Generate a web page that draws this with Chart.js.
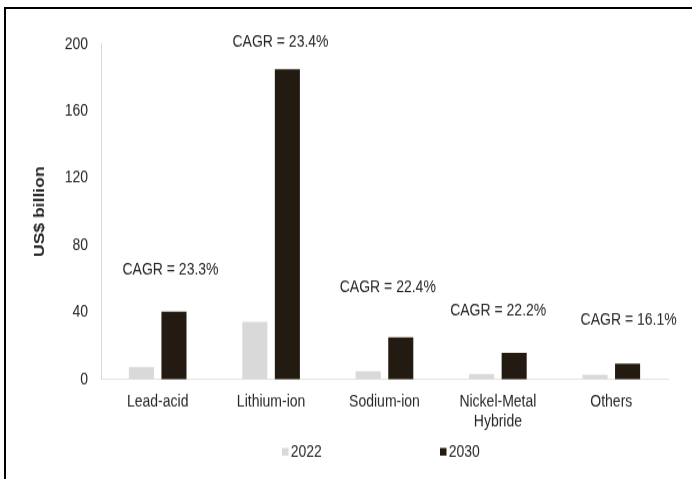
<!DOCTYPE html>
<html>
<head>
<meta charset="utf-8">
<script src="https://cdn.jsdelivr.net/npm/chart.js@4.4.0/dist/chart.umd.min.js"></script>
<style>
  html, body { margin: 0; padding: 0; background: #fff; }
  #wrap { position: relative; width: 692px; height: 479px; overflow: hidden; }
  #grafico { position: absolute; left: 0; top: 0; }
  /* marco negro arriba y a la izquierda */
  #marco { position: absolute; left: 4px; top: 7px; right: 0; bottom: 0; border-top: 2px solid #000; border-left: 2px solid #000; }
</style>
</head>
<body>
<div id="wrap">
  <!-- lienzo de 410px de alto estirado a 479px: texto un poco más alto que ancho -->
  <canvas id="grafico" width="692" height="410" style="width:692px;height:479px"></canvas>
  <div id="marco"></div>
</div>
<script>
const categorias = ['Lead-acid', 'Lithium-ion', 'Sodium-ion', ['Nickel-Metal', 'Hybride'], 'Others'];
const ventas2022 = [7.3, 34.2, 4.8, 3.1, 2.7];
const ventas2030 = [40.3, 185, 25, 15.9, 9.3];
const cagr = [23.3, 23.4, 22.4, 22.2, 16.1];
const ticksY = [0, 40, 80, 120, 160, 200];

const FUENTE = '"Liberation Sans", Arial, sans-serif';
const TEXTO = '#262626';

// etiquetas "CAGR = x%" encima de cada grupo
const cagrLabels = {
    id: 'cagrLabels',
    afterDatasetsDraw(chart, args, opts) {
        const { ctx, scales: { x, y } } = chart;
        ctx.save();
        ctx.font = `14px ${FUENTE}`;
        ctx.fillStyle = TEXTO;
        ctx.textAlign = 'center';
        ctx.textBaseline = 'middle';
        cagr.forEach((v, i) => {
            const px = x.getPixelForValue(i) + opts.dx[i];
            const py = y.getPixelForValue(ventas2030[i]) - opts.dy[i];
            ctx.fillText(`CAGR = ${v.toFixed(1)}%`, px, py);
        });
        ctx.restore();
    }
};

// leyenda propia, muy separada entre items
const leyenda = {
    id: 'leyenda',
    afterDraw(chart, args, opts) {
        const { ctx, chartArea } = chart;
        const mid = (chartArea.left + chartArea.right) / 2;
        ctx.save();
        ctx.font = `14px ${FUENTE}`;
        ctx.textAlign = 'left';
        ctx.textBaseline = 'middle';
        chart.data.datasets.forEach((ds, i) => {
            const x0 = mid - opts.offset + i * opts.spacing;
            ctx.fillStyle = ds.backgroundColor;
            ctx.fillRect(x0, opts.y - 3.3, 6.5, 6.6);
            ctx.fillStyle = TEXTO;
            ctx.fillText(ds.label, x0 + 8.7, opts.y);
        });
        ctx.restore();
    }
};

const ctx = document.getElementById('grafico');

new Chart(ctx, {
    type: 'bar',
    data: {
        labels: categorias,
        datasets: [
            { label: '2022', data: ventas2022, backgroundColor: '#d9d9d9', categoryPercentage: 0.574, barPercentage: 0.77 },
            { label: '2030', data: ventas2030, backgroundColor: '#231b12', categoryPercentage: 0.574, barPercentage: 0.77 }
        ]
    },
    options: {
        responsive: false,
        maintainAspectRatio: false,
        devicePixelRatio: 1,
        animation: false,
        layout: { padding: { top: 37.7, right: 24, bottom: 0, left: 0 } },
        plugins: {
            legend: { display: false },
            tooltip: { enabled: false },
            cagrLabels: { dx: [12.8, 9.4, 3.3, 0.3, 17.3], dy: [35.7, 23.4, 42.5, 35.7, 37.4] },
            leyenda: { y: 386.7, offset: 102.5, spacing: 158 }
        },
        scales: {
            x: {
                grid: { display: false },
                border: { display: true, color: '#e8ded6' },
                ticks: { color: TEXTO, font: { family: FUENTE, size: 14, lineHeight: 1.16 }, padding: 3.6, maxRotation: 0, autoSkip: false },
                afterFit(s) { s.height = 410 - 324.7; }
            },
            y: {
                min: 0,
                max: 200,
                grid: { display: false, drawTicks: false },
                border: { display: true, color: '#d9d9d9' },
                afterBuildTicks(s) { s.ticks = ticksY.map(v => ({ value: v })); },
                ticks: { color: TEXTO, font: { family: FUENTE, size: 14 }, padding: 13 },
                title: {
                    display: true,
                    text: 'US$ billion',
                    color: TEXTO,
                    font: { family: FUENTE, size: 15, weight: 'bold' },
                    padding: { top: 31, bottom: 0 }
                },
                afterFit(s) { s.width = 101; }
            }
        }
    },
    plugins: [cagrLabels, leyenda]
});
</script>
</body>
</html>
